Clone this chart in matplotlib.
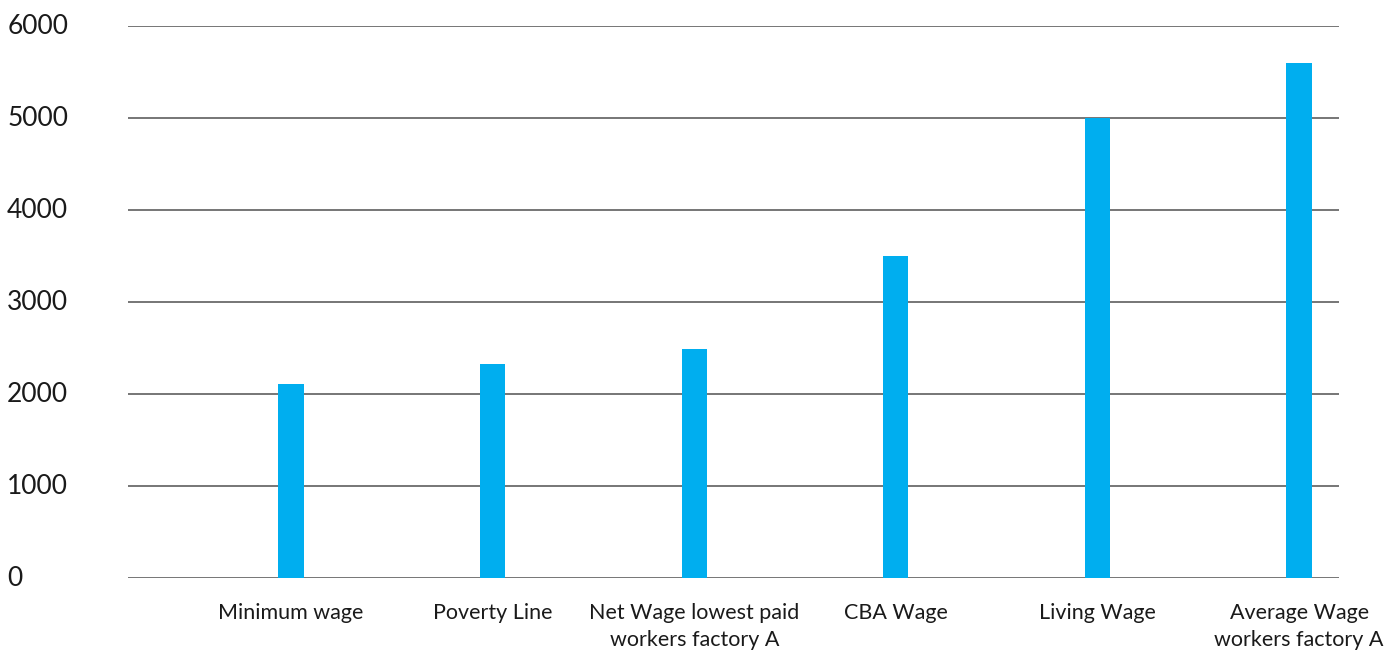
import numpy as np
from matplotlib import pyplot as plt
import matplotlib.transforms as mtrans

categories = ["Minimum wage", "Poverty Line", "Net Wage lowest paid\nworkers factory A",
              "CBA Wage", "Living Wage", "Average Wage\nworkers factory A"]
values = [2110, 2330, 2490, 3500, 5000, 5600]
yticks = [0, 1000, 2000, 3000, 4000, 5000, 6000]

plt.rcParams['font.family'] = ['Lato', 'DejaVu Sans']

W, H = 1394, 652
fig = plt.figure(figsize=(W / 100, H / 100), dpi=100)
ax = fig.add_axes([128 / W, (H - 578) / H, (1339 - 128) / W, (578 - 26) / H])

x = np.arange(len(categories))
ax.bar(x, values, width=0.125, color="#00aeef", zorder=3)

# gridlines
for t in yticks:
    ax.axhline(t, color="#6b6b6b", lw=1.3, zorder=2)

ax.set_xlim(-0.809, 5.198)
ax.set_ylim(0, 6000)
ax.set_yticks(yticks)
ax.set_yticklabels([str(t) for t in yticks], fontsize=19, color="#1a1a1a")
ax.tick_params(axis="y", length=0, pad=87)
# labels left aligned at the figure edge, sitting a bit above each line
off = mtrans.ScaledTranslation(0, -9 / 72, fig.dpi_scale_trans)
for lab in ax.get_yticklabels():
    lab.set_horizontalalignment("left")
    lab.set_verticalalignment("bottom")
    lab.set_transform(lab.get_transform() + off)

ax.set_xticks(x)
ax.set_xticklabels(categories, fontsize=15.5, color="#1a1a1a", linespacing=1.45)
ax.tick_params(axis="x", length=0, pad=18)

for s in ax.spines.values():
    s.set_visible(False)

fig.savefig("out.png", dpi=100)
